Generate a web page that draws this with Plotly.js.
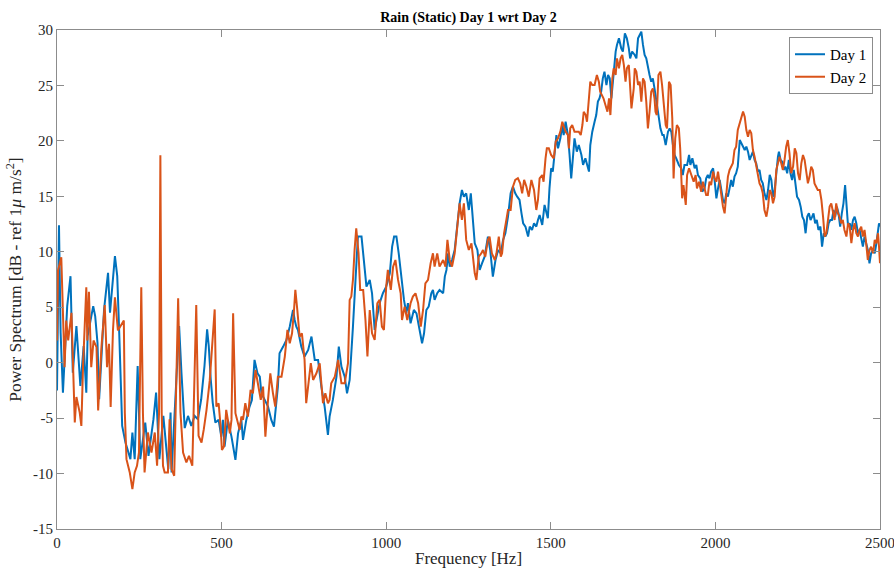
<!DOCTYPE html>
<html><head><meta charset="utf-8">
<script src="https://cdn.plot.ly/plotly-3.0.1.min.js"></script>
<style>html,body{margin:0;padding:0;background:#fff}#chart{width:894px;height:569px}</style>
</head><body><div id="chart"></div>
<script>
const SERIES_NAMES = ['Day 1', 'Day 2'];
const X_TICKS = [0, 500, 1000, 1500, 2000, 2500];
const Y_TICKS = [-15, -10, -5, 0, 5, 10, 15, 20, 25, 30];

const FREQ_DAY1 = [0,6,11,18,31,41,48,59,71,81,89,93,110,116,123,128,138,143,155,161,176,183,189,193,198,208,218,223,229,236,245,253,268,278,293,301,311,323,338,345,348,363,371,378,388,398,408,418,428,438,448,456,461,467,473,481,
491,499,504,509,519,530,535,542,550,560,565,575,585,592,600,609,616,621,631,641,651,659,671,676,687,697,707,717,722,727,732,742,752,763,773,783,793,803,813,823,828,838,849,856,864,874,881,889,899,909,914,925,933,940,950,957,
965,973,980,990,1000,1011,1018,1024,1031,1038,1046,1054,1061,1066,1074,1084,1092,1102,1109,1115,1122,1129,1137,1142,1147,1155,1162,1173,1178,1183,1188,1193,1200,1208,1216,1223,1230,1236,1243,1251,1257,1264,1269,1277,1284,1291,1299,1309,1316,1324,1332,1340,1348,1355,1362,1370,1378,1385,1392,1398,1405,1411,1416,1423,1431,1436,1443,1449,1456,1461,
1466,1474,1481,1486,1491,1496,1501,1506,1512,1517,1522,1529,1535,1539,1545,1552,1557,1562,1567,1572,1579,1585,1593,1598,1605,1610,1616,1620,1626,1633,1638,1643,1648,1653,1658,1663,1669,1674,1679,1684,1691,1697,1701,1707,1714,1719,1725,1731,1737,1741,1747,1755,1760,1765,1770,1775,1780,1785,1790,1795,1800,1805,1810,1815,1822,1829,1833,1839,1843,1849,1856,1861,1866,1871,1876,1881,1889,1896,1901,1906,1914,1920,1924,1930,1937,1942,1947,1954,1960,1967,1972,1977,1982,1987,1993,1998,2003,2008,
2013,2018,2023,2028,2033,2038,2043,2048,2053,2058,2063,2068,2074,2079,2084,2089,2094,2099,2104,2109,2114,2119,2124,2129,2134,2139,2144,2149,2155,2160,2165,2170,2175,2180,2185,2190,2193,2198,2203,2207,2213,2218,2223,2228,2233,2238,2243,2248,2254,2259,2264,2269,2274,2279,2284,2289,2294,2298,2303,2308,2313,2319,2324,2329,2334,2339,2344,2349,2354,2359,2364,2369,2374,2379,2384,2389,2394,2399,2403,2408,2413,2418,2423,2428,2433,2438,2443,2448,2453,2458,2463,2468,2473,2479,2484,2489,2494,2497,2500];
const DB_DAY1 = [-2.5,12.4,2.7,-2.7,5.1,7.8,-0.9,3.3,-2.1,1.5,-2.7,2.4,5.1,4.2,1.8,-3.3,2.1,4.8,8.1,4.5,9.6,7.8,2.7,-1.5,-5.7,-7.2,-8.1,-8.7,-6.3,-8.7,-0.3,-8.7,-5.4,-8.4,-5.1,-2.7,-8.7,-4.8,-9.6,-4.5,-9.9,-0.9,3.3,-0.9,-5.9,-4.8,-5.7,-4.8,-5.1,-3.3,-0.3,3.0,1.5,-1.5,-3.6,-5.4,
-5.16,-6.67,-5.16,-7.57,-5.16,-6.67,-7.57,-8.77,-6.37,-5.16,-6.97,-5.16,-3.96,-3.36,0.25,-0.96,-1.26,-2.76,-3.36,-3.96,-5.16,-5.77,-2.16,0.85,1.45,2.05,3.25,4.75,3.85,3.25,2.95,1.45,0.55,1.15,2.35,0.25,0.25,-2.16,-3.96,-6.52,-4.86,-3.36,-1.26,1.45,-0.36,-1.26,-2.76,-1.56,3.25,8.66,11.37,11.37,8.96,6.86,7.46,6.26,
2.95,4.45,5.36,6.26,6.86,8.06,10.46,11.37,11.37,9.86,7.46,5.66,4.45,5.36,3.55,4.75,4.45,2.95,1.75,2.65,4.75,5.05,6.26,6.56,5.66,6.26,6.56,6.26,7.76,8.36,9.86,8.66,9.26,10.16,12.57,14.37,15.57,14.97,15.27,13.77,15.27,12.27,10.77,10.16,8.36,8.96,9.56,11.37,10.16,7.76,9.26,10.16,9.86,11.07,11.67,13.17,15.27,15.87,15.27,14.97,14.67,13.47,12.57,12.27,11.37,12.27,11.97,12.57,12.27,12.87,
13.32,12.42,14.22,13.62,13.02,15.72,17.53,17.23,19.03,20.53,19.33,20.23,21.43,20.53,21.73,20.53,18.73,16.62,18.43,20.23,19.03,19.63,18.73,17.83,18.43,17.83,17.23,19.63,20.83,21.73,22.33,23.54,23.84,24.44,25.64,26.24,25.04,25.94,25.64,23.84,26.24,28.05,28.65,29.25,28.35,28.05,29.70,29.25,28.35,27.44,28.05,27.75,27.44,29.25,29.55,29.85,28.65,27.75,27.44,26.54,25.94,25.34,25.64,24.74,23.24,22.03,21.13,20.53,20.53,19.63,20.83,21.13,20.83,19.63,18.73,18.43,17.83,17.53,16.92,17.83,17.83,18.73,17.83,18.43,17.53,17.83,16.92,16.62,15.42,15.72,16.62,16.92,16.62,17.23,17.53,16.32,14.82,15.72,
16.47,15.57,14.67,14.37,15.27,14.97,15.87,16.47,15.87,16.78,17.08,17.68,20.08,19.78,19.48,19.18,19.48,19.03,18.28,18.58,19.03,18.28,17.98,17.23,17.38,16.47,16.17,15.27,14.67,15.57,16.93,16.47,14.97,15.57,17.38,18.58,19.03,18.28,18.13,17.38,17.68,17.08,18.28,17.08,16.47,17.38,16.17,14.97,14.67,14.07,13.17,12.87,11.67,13.17,13.47,12.87,13.17,13.47,12.57,12.87,11.97,12.27,10.46,11.67,11.37,11.67,12.57,12.87,12.87,13.77,13.17,14.07,13.47,12.27,13.47,14.37,16.02,14.07,12.27,12.57,11.97,12.87,13.17,12.57,11.67,11.97,11.07,10.46,11.37,10.77,10.16,8.96,9.86,10.16,9.86,10.77,11.97,12.57,12.27];

const FREQ_DAY2 = [0,3,13,23,28,34,44,54,59,69,74,79,89,92,97,104,111,120,125,135,145,152,158,163,170,176,185,203,206,211,221,229,236,243,249,256,261,266,276,287,297,304,310,314,318,322,327,337,342,348,356,368,375,383,393,401,411,423,430,439,446,454,464,471,479,
484,491,497,501,507,514,519,525,530,535,542,548,555,560,565,572,580,588,595,603,611,619,626,633,641,648,656,663,671,682,692,700,707,714,720,724,730,737,744,752,757,765,771,778,788,798,803,808,815,823,828,833,844,854,864,874,884,889,894,899,904,909,916,921,930,937,943,950,957,
965,973,980,987,993,1000,1005,1014,1021,1028,1036,1044,1048,1056,1064,1074,1081,1089,1097,1105,1112,1119,1127,1135,1142,1147,1155,1162,1173,1180,1186,1193,1200,1208,1215,1223,1230,1236,1243,1251,1259,1264,1269,1274,1281,1289,1294,1301,1309,1314,1321,1330,1335,1342,1348,1352,1358,1365,1370,1378,1385,1392,1400,1407,1413,1419,1426,1433,1441,1449,1456,1461,
1466,1474,1478,1484,1488,1494,1501,1509,1515,1522,1529,1535,1539,1545,1552,1555,1559,1565,1572,1579,1585,1591,1596,1600,1606,1610,1616,1620,1626,1633,1640,1646,1650,1656,1660,1666,1672,1677,1681,1687,1691,1697,1701,1707,1712,1717,1722,1727,1731,1737,1741,1745,1752,1755,1760,1765,1770,1775,1780,1785,1790,1795,1800,1805,1810,1815,1818,1822,1827,1833,1838,1843,1849,1853,1859,1864,1869,1873,1878,1883,1889,1893,1899,1903,1910,1914,1920,1927,1934,1940,1944,1950,1957,1962,1967,1972,1977,1982,1987,1993,1998,2003,2008,
2013,2018,2023,2028,2033,2038,2043,2048,2053,2058,2063,2068,2074,2079,2084,2089,2094,2099,2104,2109,2114,2119,2124,2129,2134,2139,2144,2149,2155,2160,2165,2170,2175,2180,2185,2190,2195,2200,2205,2210,2215,2220,2225,2230,2236,2241,2246,2251,2256,2261,2266,2271,2276,2281,2286,2291,2296,2301,2306,2311,2317,2322,2327,2332,2337,2342,2347,2352,2357,2362,2367,2372,2377,2382,2387,2392,2398,2403,2408,2413,2418,2423,2428,2433,2438,2443,2448,2453,2458,2463,2468,2473,2479,2484,2489,2494,2497,2500];
const DB_DAY2 = [2.0,8.3,9.5,-0.4,3.8,2.0,4.5,-5.4,-3.1,-4.5,-5.7,-0.4,6.8,2.0,6.4,-0.4,2.0,1.4,-4.3,1.4,5.2,-0.4,1.7,-4.0,2.9,5.9,2.9,3.8,-4.5,-8.7,-9.9,-11.4,-9.9,-9.3,-8.1,6.8,-4.5,-9.9,-6.3,-8.1,-6.3,-9.3,-4.5,18.7,-4.5,-9.3,-9.9,-9.9,-5.1,-9.6,-10.2,5.8,-4.5,-8.1,-9.0,-8.4,-9.3,5.2,-6.6,-7.2,-6.0,-4.3,-1.6,1.0,4.8,
-3.96,-3.66,-5.77,-7.87,-7.57,-4.26,-5.16,-6.37,-5.16,4.45,-4.56,-5.16,-6.07,-4.86,-5.16,-3.66,-4.86,-2.46,-2.76,-0.66,-2.16,-3.36,-2.16,-6.67,-3.36,-0.96,-2.76,-3.96,-1.26,-1.26,0.55,2.95,1.75,2.65,4.75,6.56,4.75,2.35,2.65,0.25,-3.66,-1.26,-0.05,-1.56,-0.96,-0.05,-1.56,-3.66,-2.76,-3.66,-3.36,-1.86,-1.26,0.25,-1.86,-1.86,-0.05,5.66,5.96,7.46,10.17,12.12,9.87,6.56,6.56,3.85,0.55,4.75,2.65,
2.05,5.36,5.66,3.25,2.95,6.86,8.36,6.56,8.66,9.26,7.46,6.26,3.85,5.05,3.85,5.36,5.96,6.26,5.36,3.25,4.75,7.16,7.46,8.96,9.86,8.66,9.86,8.66,9.26,8.66,11.07,9.26,8.66,9.86,12.27,14.37,12.87,14.37,11.07,10.16,10.77,9.56,8.06,7.46,9.56,9.86,10.16,9.56,11.07,11.37,9.86,9.26,9.86,11.37,9.56,9.86,11.67,12.87,13.77,13.77,15.87,16.48,16.63,16.18,15.27,16.48,15.87,14.97,16.48,15.57,13.77,14.67,
16.62,16.92,16.32,18.43,19.33,19.33,18.73,18.43,19.93,20.23,20.83,21.73,21.43,20.83,20.53,19.33,21.13,21.43,20.83,20.83,20.83,20.53,21.43,22.63,22.33,21.73,23.54,25.34,25.04,25.04,25.94,25.34,24.44,24.14,23.84,23.24,22.63,23.84,22.33,25.64,26.54,25.94,27.44,26.54,27.44,27.75,26.84,25.34,26.54,26.84,24.44,22.93,24.74,26.54,26.24,25.04,25.34,23.54,25.64,25.34,23.54,21.13,22.63,24.44,24.74,23.84,22.63,22.33,25.94,26.24,25.04,23.24,21.43,21.13,25.34,25.04,22.03,16.62,20.23,21.43,21.13,19.33,14.82,16.02,14.22,16.92,17.53,16.92,16.32,16.92,15.72,16.32,15.42,16.32,15.72,15.12,15.12,16.32,16.02,17.23,16.62,16.32,17.23,
16.17,14.97,14.07,13.47,14.97,16.78,17.38,17.68,17.98,19.18,19.48,20.98,21.58,22.19,22.64,22.19,20.98,20.38,20.98,20.68,19.18,18.58,17.68,16.78,16.17,15.87,15.27,13.77,13.17,14.07,15.57,15.27,14.37,14.97,17.38,17.98,18.58,17.98,17.38,18.28,19.48,20.08,18.88,17.08,17.68,19.33,18.88,17.08,16.47,17.98,18.73,18.28,17.08,16.17,16.78,17.68,17.38,16.17,15.87,15.57,15.57,14.67,13.17,11.37,11.67,13.17,14.07,14.37,13.47,12.87,14.37,13.47,13.17,12.57,12.87,11.97,11.37,12.57,12.27,10.77,11.97,12.57,11.67,11.37,11.97,12.27,11.37,11.97,10.77,9.26,10.16,10.46,9.86,11.07,10.77,11.67,10.46,8.96];

const FONT = '"Liberation Serif", "Times New Roman", serif';
const INK = '#262626';
const AXIS = '#8c8c8c';

const traces = [
  {x: FREQ_DAY1, y: DB_DAY1, name: SERIES_NAMES[0], type: 'scatter', mode: 'lines',
   line: {color: '#0072BD', width: 2}},
  {x: FREQ_DAY2, y: DB_DAY2, name: SERIES_NAMES[1], type: 'scatter', mode: 'lines',
   line: {color: '#D95319', width: 2}}
];

const axisCommon = {
  showline: true, linecolor: AXIS, linewidth: 1, mirror: 'ticks',
  ticks: 'inside', ticklen: 7, tickwidth: 1, tickcolor: AXIS,
  showgrid: false, zeroline: false, ticklabeloverflow: 'allow',
  tickfont: {family: FONT, size: 15, color: INK}
};

const layout = {
  width: 894, height: 569,
  margin: {l: 57, r: 14, t: 30, b: 40},
  paper_bgcolor: '#ffffff', plot_bgcolor: '#ffffff',
  showlegend: true,
  title: {text: '<b>Rain (Static) Day 1 wrt Day 2</b>', font: {family: FONT, size: 14, color: '#000'},
          x: 0.5, xref: 'paper', y: 1 - 17/569, yref: 'container', yanchor: 'middle'},
  xaxis: Object.assign({}, axisCommon, {
    range: [0, 2500], tickvals: X_TICKS, ticktext: X_TICKS.map(String),
    title: {text: 'Frequency [Hz]', font: {family: FONT, size: 17, color: INK}, standoff: 2}
  }),
  yaxis: Object.assign({}, axisCommon, {
    range: [-15, 30], tickvals: Y_TICKS, ticktext: Y_TICKS.map(String),
    title: {text: 'Power Spectrum [dB - ref 1<i>μ</i> m/s<sup>2</sup>]', font: {family: FONT, size: 17.5, color: INK}, standoff: 6}
  }),
  legend: {x: 0.9915, xanchor: 'right', y: 0.986, yanchor: 'top',
           bgcolor: '#ffffff', bordercolor: '#8c8c8c', borderwidth: 1,
           font: {family: FONT, size: 15, color: '#000'}, itemwidth: 30,
           tracegroupgap: 0}
};

Plotly.newPlot('chart', traces, layout, {displayModeBar: false, staticPlot: true});
</script></body></html>
